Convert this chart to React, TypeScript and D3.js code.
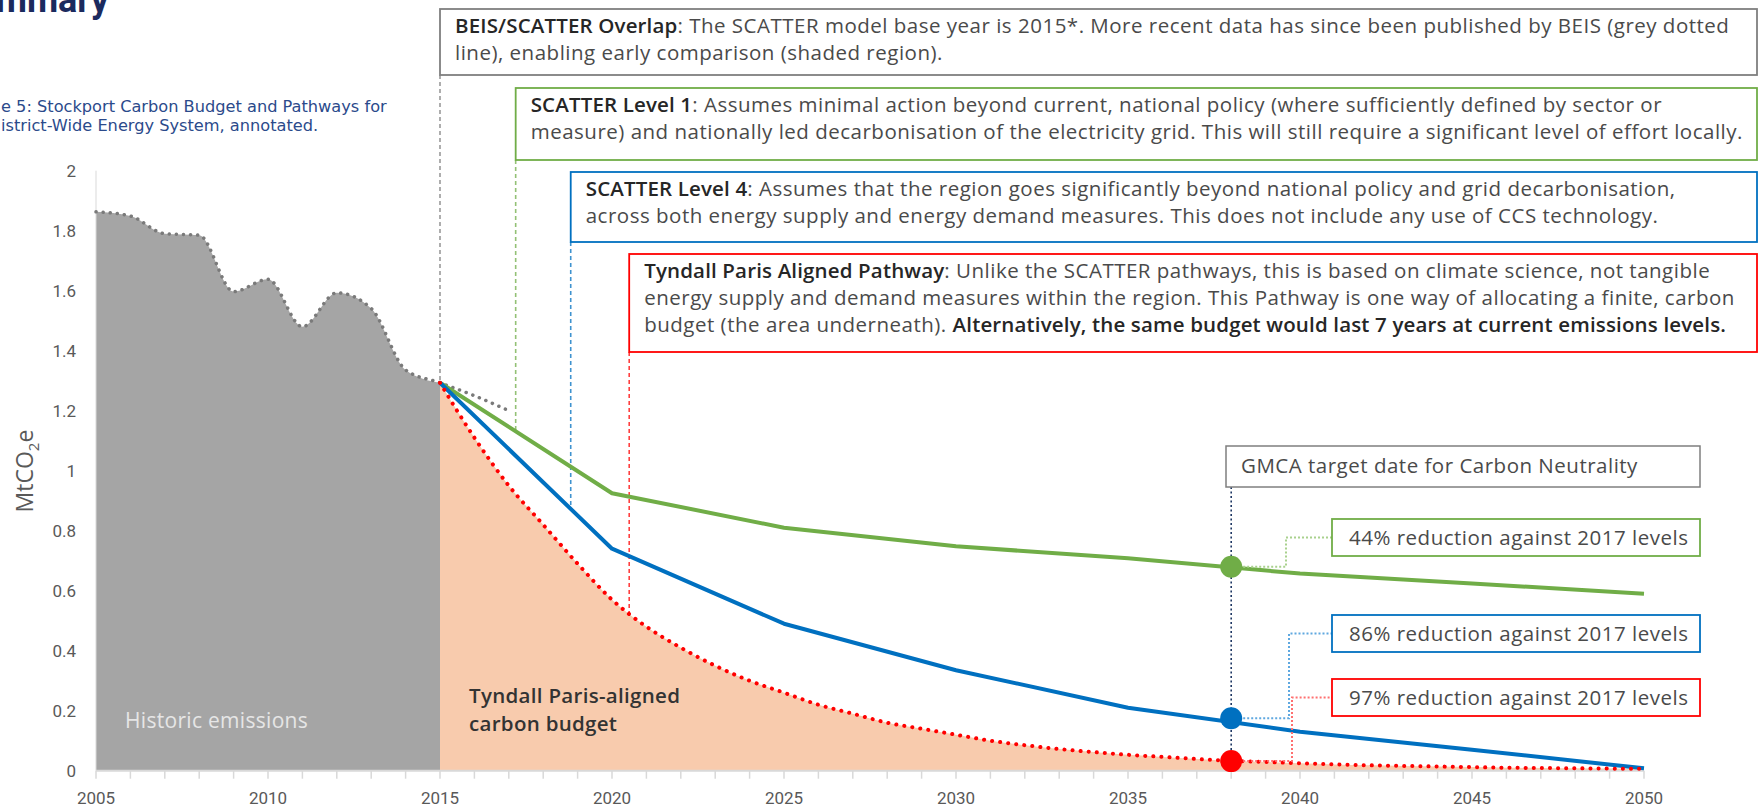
import React from "react";
import * as d3 from "d3";

// historic emissions (BEIS), MtCO2e; 2016-2017 is the newer BEIS data past the SCATTER base year
const historicYears = [2005, 2006, 2007, 2008, 2009, 2010, 2011, 2012, 2013, 2014, 2015, 2016, 2017];
const historic = [1.863, 1.849, 1.79, 1.785, 1.597, 1.638, 1.48, 1.593, 1.541, 1.336, 1.293, 1.25, 1.2];

const pathwayYears = [2015, 2020, 2025, 2030, 2035, 2040, 2045, 2050];
const level1 = [1.293, 0.925, 0.81, 0.748, 0.708, 0.657, 0.624, 0.59];
const level4 = [1.293, 0.74, 0.49, 0.335, 0.21, 0.13, 0.07, 0.008];

const tyndallYears = d3.range(2015, 2051);
const tyndall = [
  1.293, 1.11, 0.95, 0.82, 0.69, 0.57, 0.48, 0.41, 0.35, 0.3, 0.26, 0.22, 0.19, 0.16, 0.14, 0.12,
  0.1, 0.085, 0.072, 0.062, 0.053, 0.046, 0.039, 0.033, 0.029, 0.025, 0.021, 0.018, 0.016, 0.014,
  0.012, 0.01, 0.009, 0.008, 0.007, 0.006,
];

// GMCA target year and the values read at it
const targetYear = 2038;
const targetLevel1 = 0.68;
const targetLevel4 = 0.175;
const targetTyndall = 0.032;

const yTicks = [0, 0.2, 0.4, 0.6, 0.8, 1, 1.2, 1.4, 1.6, 1.8, 2];
const xTicks = [2005, 2010, 2015, 2020, 2025, 2030, 2035, 2040, 2045, 2050];

const GREEN = "#70ad47";
const BLUE = "#0070c0";
const RED = "#ff0000";
const GREY_BOX = "#7f7f7f";
const FONT = "Roboto, 'Noto Sans', sans-serif";
const NOTE = "'Open Sans', Roboto, sans-serif";
const NOTE_SIZE = 20.5;
const NOTE_LS = 0.5;
const TXT = "#4a4a4a";

type Seg = { t: string; b?: boolean };

const boxes: {
  year: number; // where the dashed leader drops
  top: number;
  bottom: number;
  color: string;
  to: "beis" | "l1" | "l4" | "ty";
  lines: Seg[][];
}[] = [
  {
    year: 2015, top: 9, bottom: 75, color: GREY_BOX, to: "beis",
    lines: [
      [{ t: "BEIS/SCATTER Overlap", b: true }, { t: ": The SCATTER model base year is 2015*. More recent data has since been published by BEIS (grey dotted" }],
      [{ t: "line), enabling early comparison (shaded region)." }],
    ],
  },
  {
    year: 2017.2, top: 88, bottom: 160, color: GREEN, to: "l1",
    lines: [
      [{ t: "SCATTER Level 1", b: true }, { t: ": Assumes minimal action beyond current, national policy (where sufficiently defined by sector or" }],
      [{ t: "measure) and nationally led decarbonisation of the electricity grid. This will still require a significant level of effort locally." }],
    ],
  },
  {
    year: 2018.8, top: 172, bottom: 242, color: BLUE, to: "l4",
    lines: [
      [{ t: "SCATTER Level 4", b: true }, { t: ": Assumes that the region goes significantly beyond national policy and grid decarbonisation," }],
      [{ t: "across both energy supply and energy demand measures. This does not include any use of CCS technology." }],
    ],
  },
  {
    year: 2020.5, top: 254, bottom: 352, color: RED, to: "ty",
    lines: [
      [{ t: "Tyndall Paris Aligned Pathway", b: true }, { t: ": Unlike the SCATTER pathways, this is based on climate science, not tangible" }],
      [{ t: "energy supply and demand measures within the region. This Pathway is one way of allocating a finite, carbon" }],
      [{ t: "budget (the area underneath). " }, { t: "Alternatively, the same budget would last 7 years at current emissions levels.", b: true }],
    ],
  },
];

const reductions = [
  { label: "44% reduction against 2017 levels", color: GREEN, value: targetLevel1, top: 519, dashColor: "#a9d18e" },
  { label: "86% reduction against 2017 levels", color: BLUE, value: targetLevel4, top: 615, dashColor: "#5fa8e0" },
  { label: "97% reduction against 2017 levels", color: RED, value: targetTyndall, top: 679, dashColor: "#ff7070" },
];

export default function App() {
  const W = 1760;
  const H = 811;
  const x = d3.scaleLinear().domain([2005, 2050]).range([96, 1644]);
  const y = d3.scaleLinear().domain([0, 2]).range([770.7, 170.7]);

  const histPts = historicYears.map((yr, i) => [yr, historic[i]] as [number, number]);
  const histArea = d3
    .area<[number, number]>()
    .x((d) => x(d[0]))
    .y0(y(0))
    .y1((d) => y(d[1]))
    .curve(d3.curveMonotoneX)(histPts.filter((d) => d[0] <= 2015));
  const histLine = d3
    .line<[number, number]>()
    .x((d) => x(d[0]))
    .y((d) => y(d[1]))
    .curve(d3.curveMonotoneX)(histPts);

  const tyPts = tyndallYears.map((yr, i) => [yr, tyndall[i]] as [number, number]);
  const tyArea = d3
    .area<[number, number]>()
    .x((d) => x(d[0]))
    .y0(y(0))
    .y1((d) => y(d[1]))
    .curve(d3.curveMonotoneX)(tyPts);
  const smooth = d3
    .line<[number, number]>()
    .x((d) => x(d[0]))
    .y((d) => y(d[1]))
    .curve(d3.curveMonotoneX);
  const straight = d3
    .line<[number, number]>()
    .x((d) => x(d[0]))
    .y((d) => y(d[1]));
  const tyLine = smooth(tyPts);
  const l1Line = straight(pathwayYears.map((yr, i) => [yr, level1[i]]));
  const l4Line = straight(pathwayYears.map((yr, i) => [yr, level4[i]]));

  // value of a series at an arbitrary year (for where the leaders meet the lines)
  const at = (xs: number[], vs: number[], yr: number) => d3.scaleLinear().domain(xs).range(vs)(yr);
  const leaderEnd = (k: string, yr: number) => {
    if (k === "beis") return y(at(historicYears, historic, yr));
    if (k === "l1") return y(at(pathwayYears, level1, yr));
    if (k === "l4") return y(at(pathwayYears, level4, yr));
    return y(at(tyndallYears, tyndall, yr));
  };

  const tx = x(targetYear);
  const boxRight = 1757;
  const redLeft = 1332;
  const redRight = 1700;
  const elbow = 1286;

  return (
    <svg
      width={W}
      height={H}
      style={{ position: "absolute", left: 0, top: 0, background: "#fff" }}
      fontFamily={FONT}
    >
      {/* page heading and caption, cropped at the left edge as in the source page */}
      <text x={109} y={12} textAnchor="end" fontSize={36} fontWeight={700} fill="#1b2a5e">
        Summary
      </text>
      <text x={1} y={112} fontSize={16.2} fill="#2b4a8b" fontFamily="'DejaVu Sans', sans-serif">
        e 5: Stockport Carbon Budget and Pathways for
      </text>
      <text x={1} y={131} fontSize={16.2} fill="#2b4a8b" fontFamily="'DejaVu Sans', sans-serif">
        istrict-Wide Energy System, annotated.
      </text>

      {/* areas */}
      <path d={histArea || ""} fill="#a5a5a5" />
      <path d={tyArea || ""} fill="#f8cbad" />

      {/* axes */}
      <line x1={x(2005)} x2={x(2005)} y1={y(2)} y2={y(0)} stroke="#d9d9d9" strokeWidth={1} />
      <line x1={x(2005)} x2={x(2050)} y1={y(0)} y2={y(0)} stroke="#d9d9d9" strokeWidth={2} />
      {d3.range(2005, 2051).map((yr) => (
        <line key={yr} x1={x(yr)} x2={x(yr)} y1={y(0)} y2={y(0) + 8} stroke="#d9d9d9" strokeWidth={1.5} />
      ))}
      {xTicks.map((yr) => (
        <text key={yr} x={x(yr)} y={804} textAnchor="middle" fontSize={17} fill="#595959">
          {yr}
        </text>
      ))}
      {yTicks.map((v) => (
        <text key={v} x={76} y={y(v) + 6} textAnchor="end" fontSize={17} fill="#595959">
          {String(v)}
        </text>
      ))}
      <text
        transform="translate(33,471) rotate(-90)"
        textAnchor="middle"
        fontSize={23}
        fontFamily={NOTE}
        fill="#595959"
      >
        MtCO<tspan fontSize={15} dy={6}>2</tspan>
        <tspan dy={-6}>e</tspan>
      </text>

      {/* leader lines from the boxes */}
      {boxes.map((b, i) => (
        <line
          key={i}
          x1={x(b.year)}
          x2={x(b.year)}
          y1={b.bottom}
          y2={leaderEnd(b.to, b.year)}
          stroke={b.to === "beis" ? "#9a9a9a" : b.color}
          strokeWidth={1.6}
          strokeDasharray="4 3"
          opacity={b.to === "beis" ? 1 : 0.75}
        />
      ))}

      {/* series */}
      <path d={histLine || ""} fill="none" stroke="#7a7a7a" strokeWidth={3.5} strokeLinecap="round" strokeDasharray="0.1 7" />
      <path d={l1Line || ""} fill="none" stroke={GREEN} strokeWidth={4} strokeLinejoin="round" />
      <path d={l4Line || ""} fill="none" stroke={BLUE} strokeWidth={4} strokeLinejoin="round" />
      <path d={tyLine || ""} fill="none" stroke={RED} strokeWidth={4} strokeLinecap="round" strokeDasharray="0.1 8" />

      {/* target year */}
      <line x1={tx} x2={tx} y1={487} y2={y(0)} stroke="#1f3864" strokeWidth={1.6} strokeDasharray="2 2.5" />
      {reductions.map((r, i) => {
        const cy = y(r.value);
        const mid = r.top + 18.5;
        return (
          <g key={i}>
            <path
              d={`M${tx},${cy}H${elbow + i * 3}V${mid}H${redLeft}`}
              fill="none"
              stroke={r.dashColor}
              strokeWidth={2}
              strokeDasharray="2 2"
            />
            <rect x={redLeft} y={r.top} width={redRight - redLeft} height={37} fill="#fff" stroke={r.color} strokeWidth={1.8} />
            <text x={redLeft + 17} y={mid + 7} fontSize={NOTE_SIZE} letterSpacing={NOTE_LS} fontFamily={NOTE} fill={TXT}>
              {r.label}
            </text>
            <circle cx={tx} cy={cy} r={11} fill={r.color} />
          </g>
        );
      })}
      <rect x={1226} y={446} width={1700 - 1226} height={41} fill="#fff" stroke={GREY_BOX} strokeWidth={1.5} />
      <text x={1241} y={473} fontSize={NOTE_SIZE} letterSpacing={NOTE_LS} fontFamily={NOTE} fill={TXT}>
        GMCA target date for Carbon Neutrality
      </text>

      {/* annotation boxes */}
      {boxes.map((b, i) => (
        <g key={i}>
          <rect
            x={x(b.year)}
            y={b.top}
            width={boxRight - x(b.year)}
            height={b.bottom - b.top}
            fill="#fff"
            stroke={b.color}
            strokeWidth={1.8}
          />
          {b.lines.map((ln, j) => (
            <text
              key={j}
              x={x(b.year) + 15}
              y={b.top + 24 + j * 27}
              fontSize={NOTE_SIZE}
              fontFamily={NOTE}
              fill={TXT}
            >
              {ln.map((s, k) => (
                <tspan
                  key={k}
                  fontWeight={s.b ? 600 : 400}
                  letterSpacing={s.b ? 0.15 : NOTE_LS}
                  fill={s.b ? "#262626" : TXT}
                >
                  {s.t}
                </tspan>
              ))}
            </text>
          ))}
        </g>
      ))}

      {/* area labels */}
      <text x={125} y={728} fontSize={21} fontFamily={NOTE} letterSpacing={0.3} fill="#e6e6e6">
        Historic emissions
      </text>
      <text x={469} y={703} fontSize={20.5} fontFamily={NOTE} fontWeight={600} letterSpacing={0.3} fill="#333">
        Tyndall Paris-aligned
      </text>
      <text x={469} y={731} fontSize={20.5} fontFamily={NOTE} fontWeight={600} letterSpacing={0.3} fill="#333">
        carbon budget
      </text>
    </svg>
  );
}
